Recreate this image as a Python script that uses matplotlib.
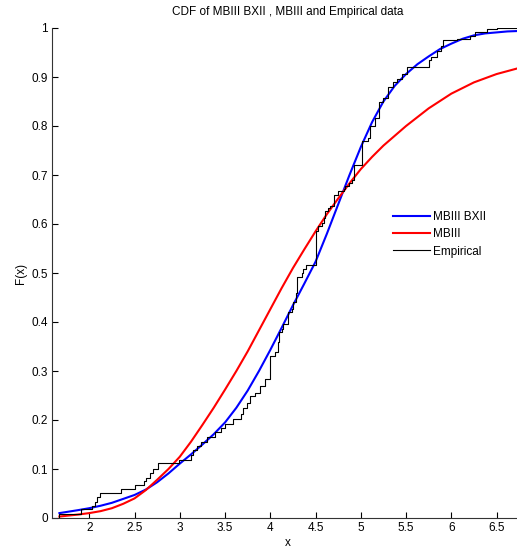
import matplotlib
matplotlib.use("Agg")
import matplotlib.pyplot as plt

# MBIII BXII fitted CDF
bx_x = [1.67, 1.875, 2.0, 2.125, 2.25, 2.375, 2.5, 2.625, 2.75, 2.875, 3.0,
        3.125, 3.25, 3.375, 3.5, 3.625, 3.75, 3.875, 4.0, 4.125, 4.25, 4.375,
        4.5, 4.625, 4.75, 4.875, 5.0, 5.125, 5.25, 5.375, 5.5, 5.625, 5.75,
        5.875, 6.0, 6.125, 6.25, 6.375, 6.5, 6.62, 6.76]
bx_F = [0.010, 0.016, 0.020, 0.025, 0.031, 0.039, 0.047, 0.058, 0.073, 0.091,
        0.111, 0.130, 0.150, 0.171, 0.195, 0.225, 0.260, 0.300, 0.343, 0.388,
        0.434, 0.478, 0.523, 0.580, 0.640, 0.700, 0.757, 0.808, 0.850, 0.882,
        0.906, 0.926, 0.942, 0.957, 0.968, 0.978, 0.985, 0.989, 0.991, 0.993,
        0.994]

# MBIII fitted CDF
mb_x = [1.67, 1.875, 2.0, 2.125, 2.25, 2.375, 2.5, 2.625, 2.75, 2.875, 3.0,
        3.125, 3.25, 3.375, 3.5, 3.625, 3.75, 3.875, 4.0, 4.125, 4.25, 4.375,
        4.5, 4.625, 4.75, 4.875, 5.0, 5.125, 5.25, 5.5, 5.75, 6.0, 6.25, 6.5,
        6.76]
mb_F = [0.003, 0.007, 0.010, 0.014, 0.020, 0.029, 0.040, 0.057, 0.078, 0.100,
        0.125, 0.156, 0.190, 0.225, 0.262, 0.300, 0.340, 0.383, 0.426, 0.469,
        0.510, 0.548, 0.585, 0.620, 0.652, 0.683, 0.712, 0.737, 0.760, 0.800,
        0.836, 0.866, 0.889, 0.906, 0.919]

# Empirical CDF steps: jump location and level after the jump
emp_x = [1.67, 1.905, 2.03, 2.06, 2.09, 2.12, 2.35, 2.50, 2.60, 2.63, 2.67,
         2.70, 2.755, 2.99, 3.12, 3.15, 3.19, 3.23, 3.30, 3.39, 3.45, 3.50,
         3.59, 3.68, 3.70, 3.74, 3.78, 3.83, 3.89, 3.94, 4.00, 4.05, 4.08,
         4.10, 4.126, 4.14, 4.20, 4.24, 4.25, 4.28, 4.30, 4.35, 4.36, 4.40,
         4.50, 4.53, 4.57, 4.59, 4.61, 4.64, 4.66, 4.70, 4.75, 4.81, 4.83,
         4.865, 4.90, 4.92, 5.01, 5.08, 5.10, 5.16, 5.20, 5.25, 5.30, 5.36,
         5.40, 5.45, 5.51, 5.75, 5.78, 5.84, 5.89, 5.91, 6.06, 6.21, 6.26,
         6.39, 6.50]
emp_F = [0.009, 0.018, 0.025, 0.033, 0.042, 0.052, 0.059, 0.068, 0.075, 0.082,
         0.092, 0.100, 0.112, 0.119, 0.128, 0.138, 0.147, 0.155, 0.165, 0.175,
         0.183, 0.192, 0.202, 0.212, 0.225, 0.235, 0.249, 0.256, 0.270, 0.283,
         0.331, 0.339, 0.360, 0.379, 0.386, 0.396, 0.420, 0.427, 0.440, 0.460,
         0.492, 0.499, 0.509, 0.516, 0.585, 0.595, 0.602, 0.612, 0.626, 0.632,
         0.636, 0.660, 0.667, 0.672, 0.677, 0.683, 0.690, 0.721, 0.770, 0.776,
         0.800, 0.817, 0.848, 0.858, 0.879, 0.889, 0.896, 0.906, 0.921, 0.934,
         0.940, 0.954, 0.964, 0.975, 0.978, 0.983, 0.992, 0.998, 1.000]

xticks = [2, 2.5, 3, 3.5, 4, 4.5, 5, 5.5, 6, 6.5]
yticks = [0, 0.1, 0.2, 0.3, 0.4, 0.5, 0.6, 0.7, 0.8, 0.9, 1]

plt.rcParams['font.family'] = ['Liberation Sans', 'DejaVu Sans']

W, H = 517, 550
fig = plt.figure(figsize=(W / 100, H / 100), dpi=100)
ax = fig.add_axes([52 / W, 32 / H, (523 - 52) / W, (518 - 28) / H])

ax.plot(bx_x, bx_F, color=(0, 0, 1), lw=1.5, label='MBIII BXII', zorder=3)
ax.plot(mb_x, mb_F, color=(1, 0, 0), lw=1.5, label='MBIII', zorder=3)
sx = [emp_x[0]] + emp_x + [6.8]
sF = [0.0] + emp_F + [emp_F[-1]]
ax.step(sx, sF, where='post', color='black', lw=0.8, label='Empirical', zorder=4)

ax.set_xlim(1.588, 2 + (523 - 89.3) / 90.5)
ax.set_ylim(0, 1)
ax.set_xticks(xticks)
ax.set_xticklabels(['2', '2.5', '3', '3.5', '4', '4.5', '5', '5.5', '6', '6.5'])
ax.set_yticks(yticks)
ax.set_yticklabels(['0', '0.1', '0.2', '0.3', '0.4', '0.5', '0.6', '0.7', '0.8', '0.9', '1'])
ax.tick_params(direction='in', length=4, width=0.8, labelsize=8.5, pad=3, colors='black')
for s in ['top', 'right']:
    ax.spines[s].set_visible(False)
for s in ['left', 'bottom']:
    ax.spines[s].set_linewidth(0.8)
    ax.spines[s].set_color('#333333')

ax.set_xlabel('x', fontsize=8.5, labelpad=2)
ax.set_ylabel('F(x)', fontsize=8.5, labelpad=3)
ax.set_title('CDF of MBIII BXII , MBIII and Empirical data', fontsize=8.5, pad=9)

leg = ax.legend(loc='upper left', bbox_to_anchor=(393 / W, 1 - 211 / H),
                bbox_transform=fig.transFigure, frameon=False, fontsize=8.5,
                handlelength=3.1, handletextpad=0.3, labelspacing=0.45,
                borderpad=0, borderaxespad=0)

fig.savefig('out.png', dpi=100)
